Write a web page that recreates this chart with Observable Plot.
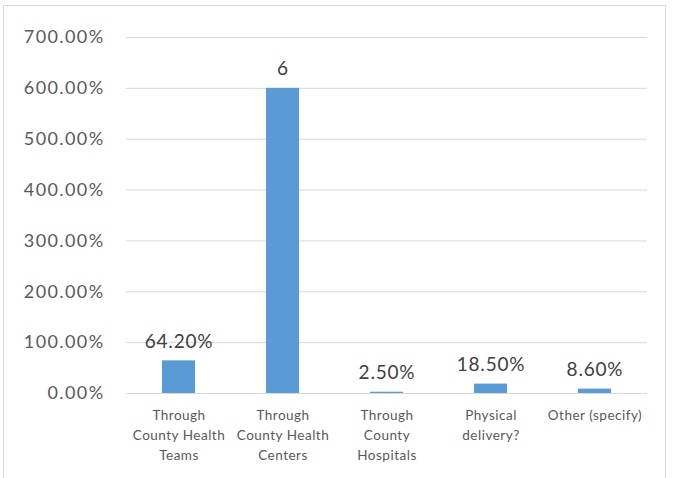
<!DOCTYPE html>
<html>
<head>
<meta charset="utf-8">
<script src="https://cdn.jsdelivr.net/npm/d3@7"></script>
<script src="https://cdn.jsdelivr.net/npm/@observablehq/plot@0.6"></script>
<style>
  html, body { margin: 0; padding: 0; background: #fff; }
  #wrap { position: relative; width: 676px; height: 478px; overflow: hidden; }
  #border { position: absolute; left: 3px; top: 5px; width: 663px; height: 490px; border: 1px solid #d9d9d9; box-sizing: border-box; }
  #chart { position: absolute; left: 0; top: 0; }
  g[aria-label="y-axis tick label"] text { letter-spacing: 1.4px; }
  g[aria-label="x-axis tick label"] text { letter-spacing: 0.5px; }
  g[aria-label="text"] text { letter-spacing: 0.8px; }
</style>
</head>
<body>
<div id="wrap"><div id="border"></div><div id="chart"></div></div>
<script>
const categories = [
  "Through\nCounty Health\nTeams",
  "Through\nCounty Health\nCenters",
  "Through\nCounty\nHospitals",
  "Physical\ndelivery?",
  "Other (specify)"
];
const values = [0.642, 6, 0.025, 0.185, 0.086];
const valueLabels = ["64.20%", "6", "2.50%", "18.50%", "8.60%"];
const yTicks = [0, 1, 2, 3, 4, 5, 6, 7];

const data = categories.map((c, i) => ({category: c, value: values[i], label: valueLabels[i]}));

const chart = Plot.plot({
  width: 676,
  height: 478,
  marginLeft: 126,
  marginRight: 29,
  marginTop: 37,
  marginBottom: 85,
  style: {fontFamily: "Lato, 'Open Sans', sans-serif", background: "transparent"},
  x: {domain: categories, paddingInner: 0.68, paddingOuter: 0.34, label: null},
  y: {domain: [0, 7], label: null},
  marks: [
    Plot.gridY(yTicks, {stroke: "#d9d9d9", strokeOpacity: 1, strokeWidth: 1}),
    Plot.axisY(yTicks, {tickSize: 0, tickPadding: 22, fontSize: 18, fill: "#595959", label: null,
      tickFormat: d => (d * 100).toFixed(2) + "%"}),
    Plot.axisX({tickSize: 0, tickPadding: 12, fontSize: 13.5, fill: "#595959", label: null, lineHeight: 1.48, textAnchor: "middle"}),
    Plot.barY(data, {x: "category", y: "value", fill: "#5b9bd5"}),
    Plot.text(data, {x: "category", y: "value", text: "label", lineAnchor: "bottom", dy: -13, fontSize: 19, fill: "#404040"})
  ]
});
document.getElementById("chart").appendChild(chart);
</script>
</body>
</html>
